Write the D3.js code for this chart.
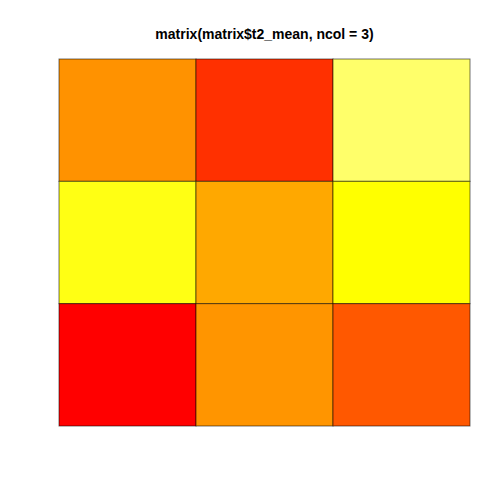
<!DOCTYPE html>
<html><head><meta charset="utf-8">
<script src="https://cdn.jsdelivr.net/npm/d3@7"></script>
<style>body{margin:0;background:#fff}</style>
</head><body>
<script>
// Matrix values (ncol = 3), row 0 = top row in the picture
const rowsLabels = [0, 1, 2];
const colsLabels = [0, 1, 2];
const row0 = [15.73, 11.88, 21.66];
const row1 = [20.31, 16.59, 20.0];
const row2 = [10.0, 15.84, 13.45];
const title = "matrix(matrix$t2_mean, ncol = 3)";

const W = 500, H = 500;
const svg = d3.select("body").append("svg").attr("width", W).attr("height", H);

const x = d3.scaleBand().domain(colsLabels).range([59, 470]).paddingInner(0);
const y = d3.scaleBand().domain(rowsLabels).range([59, 426]).paddingInner(0);
const color = d3.scaleLinear().domain([10, 20, 22]).range(["#FF0000", "#FFFF00", "#FFFF80"]).clamp(true);

const cells = [];
[row0, row1, row2].forEach((r, i) => r.forEach((v, j) => cells.push({ i, j, v })));

svg.append("g").selectAll("rect").data(cells).join("rect")
  .attr("x", d => x(d.j))
  .attr("y", d => y(d.i))
  .attr("width", x.bandwidth())
  .attr("height", y.bandwidth())
  .attr("fill", d => color(d.v))
  .attr("stroke", "rgba(0,0,0,0.55)")
  .attr("stroke-width", 1);

svg.append("text")
  .attr("x", (59 + 470) / 2)
  .attr("y", 39)
  .attr("text-anchor", "middle")
  .attr("font-family", "Liberation Sans, Arial, sans-serif")
  .attr("font-weight", "bold")
  .attr("font-size", 14)
  .text(title);
</script>
</body></html>
